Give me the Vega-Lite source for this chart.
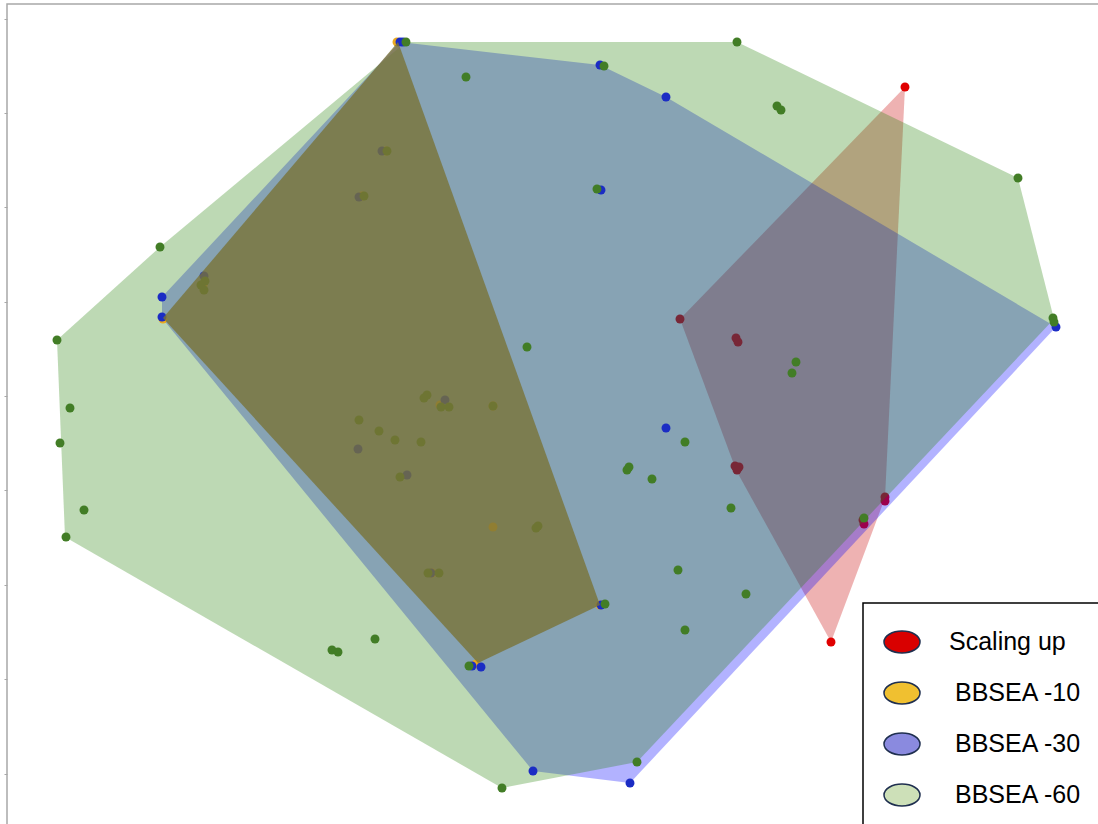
{
  "$schema": "https://vega.github.io/schema/vega-lite/v6.json",
  "width": 1095,
  "height": 826,
  "autosize": {"type": "none"},
  "padding": {"left": 7, "top": 4, "right": 0, "bottom": 0},
  "background": "white",
  "config": {
    "view": {"stroke": "#A8A8A8", "strokeWidth": 1.5},
    "legend": {
      "orient": "none",
      "legendX": 856,
      "legendY": 599,
      "title": null,
      "symbolType": "M-1,0A1,0.61,0,1,1,1,0A1,0.61,0,1,1,-1,0Z",
      "symbolSize": 1296,
      "symbolStrokeColor": "#1F2F4F",
      "symbolStrokeWidth": 1.5,
      "symbolOpacity": 1,
      "labelFont": "Liberation Sans",
      "labelFontSize": 25,
      "labelColor": "#000000",
      "labelOffset": 28,
      "labelLimit": 300,
      "rowPadding": 18,
      "padding": 20,
      "strokeColor": "#000000",
      "strokeWidth": 1.5,
      "fillColor": "white"
    }
  },
  "datasets": {
    "hull": [
      {"series": "BBSEA -30", "i": 1, "x": 400, "y": 42},
      {"series": "BBSEA -30", "i": 2, "x": 600, "y": 65},
      {"series": "BBSEA -30", "i": 3, "x": 666, "y": 97},
      {"series": "BBSEA -30", "i": 4, "x": 1056, "y": 327},
      {"series": "BBSEA -30", "i": 5, "x": 630, "y": 783},
      {"series": "BBSEA -30", "i": 6, "x": 533, "y": 771},
      {"series": "BBSEA -30", "i": 7, "x": 162, "y": 318},
      {"series": "BBSEA -30", "i": 8, "x": 162, "y": 297},
      {"series": "BBSEA -60", "i": 1, "x": 406, "y": 42},
      {"series": "BBSEA -60", "i": 2, "x": 737, "y": 42},
      {"series": "BBSEA -60", "i": 3, "x": 1018, "y": 178},
      {"series": "BBSEA -60", "i": 4, "x": 1054, "y": 319},
      {"series": "BBSEA -60", "i": 5, "x": 637, "y": 762},
      {"series": "BBSEA -60", "i": 6, "x": 502, "y": 788},
      {"series": "BBSEA -60", "i": 7, "x": 65, "y": 537},
      {"series": "BBSEA -60", "i": 8, "x": 57, "y": 340},
      {"series": "BBSEA -60", "i": 9, "x": 160, "y": 247},
      {"series": "BBSEA -10", "i": 1, "x": 398, "y": 42},
      {"series": "BBSEA -10", "i": 2, "x": 600, "y": 605},
      {"series": "BBSEA -10", "i": 3, "x": 478, "y": 663},
      {"series": "BBSEA -10", "i": 4, "x": 163, "y": 318},
      {"series": "Scaling up", "i": 1, "x": 905, "y": 87},
      {"series": "Scaling up", "i": 2, "x": 885, "y": 498},
      {"series": "Scaling up", "i": 3, "x": 831, "y": 642},
      {"series": "Scaling up", "i": 4, "x": 736, "y": 470},
      {"series": "Scaling up", "i": 5, "x": 680, "y": 319}
    ],
    "pts": [
      {"series": "Scaling up", "x": 905, "y": 87},
      {"series": "Scaling up", "x": 680, "y": 319},
      {"series": "Scaling up", "x": 736, "y": 338},
      {"series": "Scaling up", "x": 738, "y": 342},
      {"series": "Scaling up", "x": 735, "y": 466},
      {"series": "Scaling up", "x": 737, "y": 470},
      {"series": "Scaling up", "x": 739, "y": 467},
      {"series": "Scaling up", "x": 885, "y": 497},
      {"series": "Scaling up", "x": 885, "y": 501},
      {"series": "Scaling up", "x": 863, "y": 520},
      {"series": "Scaling up", "x": 864, "y": 524},
      {"series": "Scaling up", "x": 831, "y": 642},
      {"series": "BBSEA -10", "x": 397, "y": 42},
      {"series": "BBSEA -10", "x": 163, "y": 319},
      {"series": "BBSEA -10", "x": 600, "y": 605},
      {"series": "BBSEA -10", "x": 476, "y": 664},
      {"series": "BBSEA -10", "x": 493, "y": 527},
      {"series": "BBSEA -10", "x": 493, "y": 406},
      {"series": "BBSEA -10", "x": 440, "y": 405},
      {"series": "BBSEA -10", "x": 362, "y": 196},
      {"series": "BBSEA -10", "x": 203, "y": 285},
      {"series": "BBSEA -10", "x": 432, "y": 573},
      {"series": "BBSEA -10", "x": 386, "y": 151},
      {"series": "BBSEA -30", "x": 400, "y": 42},
      {"series": "BBSEA -30", "x": 403, "y": 42},
      {"series": "BBSEA -30", "x": 600, "y": 65},
      {"series": "BBSEA -30", "x": 666, "y": 97},
      {"series": "BBSEA -30", "x": 601, "y": 190},
      {"series": "BBSEA -30", "x": 162, "y": 297},
      {"series": "BBSEA -30", "x": 162, "y": 317},
      {"series": "BBSEA -30", "x": 666, "y": 428},
      {"series": "BBSEA -30", "x": 601, "y": 605},
      {"series": "BBSEA -30", "x": 472, "y": 666},
      {"series": "BBSEA -30", "x": 481, "y": 667},
      {"series": "BBSEA -30", "x": 533, "y": 771},
      {"series": "BBSEA -30", "x": 630, "y": 783},
      {"series": "BBSEA -30", "x": 1056, "y": 327},
      {"series": "BBSEA -30", "x": 445, "y": 400},
      {"series": "BBSEA -30", "x": 358, "y": 449},
      {"series": "BBSEA -30", "x": 407, "y": 475},
      {"series": "BBSEA -30", "x": 382, "y": 151},
      {"series": "BBSEA -30", "x": 359, "y": 197},
      {"series": "BBSEA -30", "x": 204, "y": 276},
      {"series": "BBSEA -30", "x": 431, "y": 573},
      {"series": "BBSEA -60", "x": 406, "y": 42},
      {"series": "BBSEA -60", "x": 737, "y": 42},
      {"series": "BBSEA -60", "x": 777, "y": 106},
      {"series": "BBSEA -60", "x": 781, "y": 110},
      {"series": "BBSEA -60", "x": 1018, "y": 178},
      {"series": "BBSEA -60", "x": 1053, "y": 318},
      {"series": "BBSEA -60", "x": 1054, "y": 322},
      {"series": "BBSEA -60", "x": 160, "y": 247},
      {"series": "BBSEA -60", "x": 57, "y": 340},
      {"series": "BBSEA -60", "x": 70, "y": 408},
      {"series": "BBSEA -60", "x": 60, "y": 443},
      {"series": "BBSEA -60", "x": 84, "y": 510},
      {"series": "BBSEA -60", "x": 66, "y": 537},
      {"series": "BBSEA -60", "x": 332, "y": 650},
      {"series": "BBSEA -60", "x": 338, "y": 652},
      {"series": "BBSEA -60", "x": 375, "y": 639},
      {"series": "BBSEA -60", "x": 502, "y": 788},
      {"series": "BBSEA -60", "x": 637, "y": 762},
      {"series": "BBSEA -60", "x": 466, "y": 77},
      {"series": "BBSEA -60", "x": 604, "y": 66},
      {"series": "BBSEA -60", "x": 597, "y": 189},
      {"series": "BBSEA -60", "x": 527, "y": 347},
      {"series": "BBSEA -60", "x": 387, "y": 151},
      {"series": "BBSEA -60", "x": 364, "y": 196},
      {"series": "BBSEA -60", "x": 201, "y": 285},
      {"series": "BBSEA -60", "x": 205, "y": 281},
      {"series": "BBSEA -60", "x": 204, "y": 290},
      {"series": "BBSEA -60", "x": 424, "y": 398},
      {"series": "BBSEA -60", "x": 427, "y": 395},
      {"series": "BBSEA -60", "x": 441, "y": 407},
      {"series": "BBSEA -60", "x": 449, "y": 407},
      {"series": "BBSEA -60", "x": 493, "y": 406},
      {"series": "BBSEA -60", "x": 359, "y": 420},
      {"series": "BBSEA -60", "x": 379, "y": 431},
      {"series": "BBSEA -60", "x": 395, "y": 440},
      {"series": "BBSEA -60", "x": 421, "y": 442},
      {"series": "BBSEA -60", "x": 400, "y": 477},
      {"series": "BBSEA -60", "x": 428, "y": 573},
      {"series": "BBSEA -60", "x": 439, "y": 573},
      {"series": "BBSEA -60", "x": 536, "y": 528},
      {"series": "BBSEA -60", "x": 538, "y": 526},
      {"series": "BBSEA -60", "x": 605, "y": 604},
      {"series": "BBSEA -60", "x": 469, "y": 666},
      {"series": "BBSEA -60", "x": 685, "y": 442},
      {"series": "BBSEA -60", "x": 627, "y": 470},
      {"series": "BBSEA -60", "x": 629, "y": 467},
      {"series": "BBSEA -60", "x": 652, "y": 479},
      {"series": "BBSEA -60", "x": 731, "y": 508},
      {"series": "BBSEA -60", "x": 678, "y": 570},
      {"series": "BBSEA -60", "x": 746, "y": 594},
      {"series": "BBSEA -60", "x": 685, "y": 630},
      {"series": "BBSEA -60", "x": 796, "y": 362},
      {"series": "BBSEA -60", "x": 792, "y": 373},
      {"series": "BBSEA -60", "x": 864, "y": 518}
    ],
    "series": [
      {"series": "Scaling up"},
      {"series": "BBSEA -10"},
      {"series": "BBSEA -30"},
      {"series": "BBSEA -60"}
    ]
  },
  "encoding": {
    "x": {"field": "x", "type": "quantitative", "scale": {"domain": [7, 1102], "nice": false, "zero": false}, "axis": null},
    "y": {"field": "y", "type": "quantitative", "scale": {"domain": [4, 830], "nice": false, "zero": false, "reverse": true},
      "axis": {"labels": false, "domain": false, "grid": false, "title": null, "ticks": true, "tickSize": 3, "tickColor": "#A8A8A8", "tickWidth": 1, "values": [19, 113, 207, 302, 396, 490, 585, 679, 774]}}
  },
  "layer": [
    {
      "data": {"name": "hull"},
      "transform": [{"filter": "datum.series == 'Scaling up'"}],
      "mark": {"type": "line", "interpolate": "linear-closed", "fill": "#C80000", "fillOpacity": 0.3, "stroke": "#C80000", "strokeOpacity": 0, "strokeWidth": 0},
      "encoding": {"order": {"field": "i", "type": "quantitative"}}
    },
    {
      "data": {"name": "pts"},
      "transform": [{"filter": "datum.series == 'Scaling up'"}],
      "mark": {"type": "circle", "size": 80, "color": "#E00000", "opacity": 1}
    },
    {
      "data": {"name": "hull"},
      "transform": [{"filter": "datum.series == 'BBSEA -30'"}],
      "mark": {"type": "line", "interpolate": "linear-closed", "fill": "#0000FF", "fillOpacity": 0.3, "stroke": "#0000FF", "strokeOpacity": 0, "strokeWidth": 0},
      "encoding": {"order": {"field": "i", "type": "quantitative"}}
    },
    {
      "data": {"name": "hull"},
      "transform": [{"filter": "datum.series == 'BBSEA -60'"}],
      "mark": {"type": "line", "interpolate": "linear-closed", "fill": "#268008", "fillOpacity": 0.3, "stroke": "#268008", "strokeOpacity": 0, "strokeWidth": 0},
      "encoding": {"order": {"field": "i", "type": "quantitative"}}
    },
    {
      "data": {"name": "pts"},
      "transform": [{"filter": "datum.series == 'BBSEA -10'"}],
      "mark": {"type": "circle", "size": 80, "color": "#E9A820", "opacity": 1}
    },
    {
      "data": {"name": "pts"},
      "transform": [{"filter": "datum.series == 'BBSEA -30'"}],
      "mark": {"type": "circle", "size": 80, "color": "#1B2CC4", "opacity": 1}
    },
    {
      "data": {"name": "pts"},
      "transform": [{"filter": "datum.series == 'BBSEA -60'"}],
      "mark": {"type": "circle", "size": 80, "color": "#427D26", "opacity": 1}
    },
    {
      "data": {"name": "hull"},
      "transform": [{"filter": "datum.series == 'BBSEA -10'"}],
      "mark": {"type": "line", "interpolate": "linear-closed", "fill": "#797337", "fillOpacity": 0.8, "stroke": "#797337", "strokeOpacity": 0, "strokeWidth": 0},
      "encoding": {"order": {"field": "i", "type": "quantitative"}}
    },
    {
      "data": {"name": "series"},
      "transform": [{"filter": "false"}],
      "mark": {"type": "point", "filled": true},
      "encoding": {
        "x": {"value": 0},
        "y": {"value": 0},
        "fill": {
          "field": "series", "type": "nominal",
          "scale": {"domain": ["Scaling up", "BBSEA -10", "BBSEA -30", "BBSEA -60"], "range": ["#D90000", "#F0C030", "#8A8ADF", "#CDE0B8"]},
          "legend": {
            "encode": {
              "symbols": {"update": {"stroke": {"value": "#1F2F4F"}, "strokeWidth": {"value": 1.5}, "opacity": {"value": 1}}},
              "labels": {"update": {"dx": {"signal": "datum.label == 'Scaling up' ? 0 : 6"}}}
            }
          }
        }
      }
    }
  ]
}
